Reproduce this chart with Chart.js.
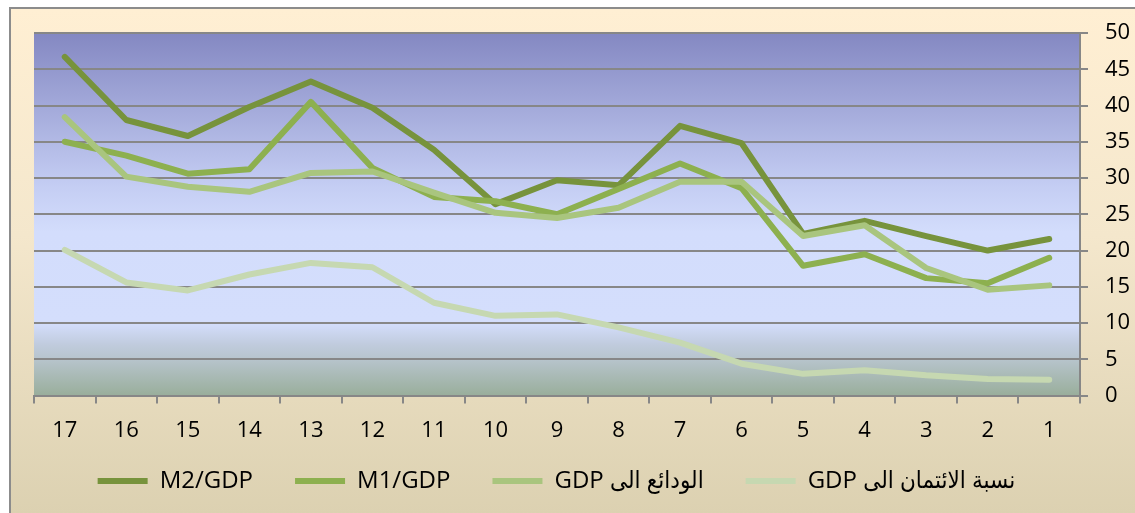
<!doctype html>
<html lang="ar">
<head>
  <meta charset="utf-8">
  <title>M2/GDP</title>
  <script src="https://cdn.jsdelivr.net/npm/chart.js"></script>
  <style>
    html, body { margin: 0; padding: 0; background: #fff; }
    #frame {
      position: absolute; left: 9px; top: 7px; right: 0; bottom: 0;
      border-top: 2px solid #8c8c8c; border-left: 2px solid #8c8c8c;
      background: linear-gradient(#ffefd3, #f4e7cc 45%, #dcd1b1);
    }
    #wrap { position: absolute; left: 0; top: 0; width: 1135px; height: 513px; }
  </style>
</head>
<body>
  <div id="frame"></div>
  <div id="wrap"><canvas id="chart"></canvas></div>

  <script>
    // categories run from 17 down to 1
    const years = ['17', '16', '15', '14', '13', '12', '11', '10', '9', '8', '7', '6', '5', '4', '3', '2', '1'];

    const m2Gdp      = [46.7, 38.0, 35.8, 39.8, 43.3, 39.7, 33.9, 26.4, 29.7, 29.0, 37.2, 34.8, 22.3, 24.1, 22.0, 20.0, 21.6];
    const m1Gdp      = [35.0, 33.1, 30.6, 31.2, 40.5, 31.4, 27.4, 26.8, 25.0, 28.5, 32.0, 28.6, 17.9, 19.5, 16.2, 15.5, 19.0];
    const depositGdp = [38.4, 30.2, 28.8, 28.1, 30.7, 30.9, 28.0, 25.2, 24.5, 25.9, 29.5, 29.5, 22.0, 23.5, 17.6, 14.6, 15.2];
    const creditGdp  = [20.1, 15.6, 14.5, 16.7, 18.3, 17.7, 12.8, 11.0, 11.2, 9.4, 7.3, 4.4, 3.0, 3.5, 2.8, 2.3, 2.2];

    const seriesNames = ['M2/GDP', 'M1/GDP', 'الودائع الى GDP', 'نسبة الائتمان الى GDP'];

    const font = "'Open Sans', 'DejaVu Sans', sans-serif";
    const legendFont = "'Open Sans', 'DejaVu Sans Condensed', 'DejaVu Sans', sans-serif";
    const gridGray = '#878787';

    // wrap arabic names in an RTL embedding so "GDP" ends up on the left
    const rtl = (s) => /[\u0600-\u06FF]/.test(s) ? '\u202B' + s + '\u202C' : s;

    // plot area fill: blue at the top, pale in the middle, grey-green at the floor
    const plotBg = {
      id: 'plotBg',
      beforeDraw(chart) {
        const { ctx, chartArea: a } = chart;
        const g = ctx.createLinearGradient(0, a.top, 0, a.bottom);
        g.addColorStop(0, '#8488c2');
        g.addColorStop(0.42, '#c4cdf3');
        g.addColorStop(0.55, '#d3ddfc');
        g.addColorStop(0.8, '#d4defc');
        g.addColorStop(0.86, '#c0cbdd');
        g.addColorStop(0.9, '#b7c4cc');
        g.addColorStop(1, '#99ae9b');
        ctx.save();
        ctx.fillStyle = g;
        ctx.fillRect(a.left, a.top, a.right - a.left, a.bottom - a.top);
        ctx.restore();
      }
    };

    // pull the legend row up and a bit left, like the original
    const legendShift = {
      id: 'legendShift',
      afterLayout(chart) {
        const L = chart.legend;
        const h = L.bottom - L.top;
        L.top = 427; L.bottom = L.top + h;
        L.left -= 28; L.right -= 28;
      }
    };

    function line(label, data, color, order) {
      return {
        label: rtl(label), data, order,
        borderColor: color,
        backgroundColor: color,
        borderWidth: 6,
        borderCapStyle: 'round',
        borderJoinStyle: 'round',
        pointRadius: 0,
        tension: 0,
        fill: false
      };
    }

    new Chart(document.getElementById('chart'), {
      type: 'line',
      data: {
        labels: years,
        datasets: [
          line(seriesNames[0], m2Gdp, '#77933c', 4),
          line(seriesNames[1], m1Gdp, '#8db04f', 3),
          line(seriesNames[2], depositGdp, '#a9c57e', 2),
          line(seriesNames[3], creditGdp, '#c6d8b1', 1)
        ]
      },
      options: {
        responsive: true,
        maintainAspectRatio: false,
        animation: false,
        layout: { padding: { left: 34, top: 33, right: 0, bottom: -21 } },
        plugins: {
          tooltip: { enabled: false },
          legend: {
            position: 'bottom',
            labels: {
              usePointStyle: true,
              pointStyle: 'line',
              pointStyleWidth: 50,
              padding: 42,
              color: '#000',
              font: { family: legendFont, size: 24 },
              sort: (a, b) => a.datasetIndex - b.datasetIndex
            }
          }
        },
        scales: {
          x: {
            offset: true,
            grid: { offset: true, drawOnChartArea: false, tickLength: 8, color: gridGray, lineWidth: 2 },
            border: { color: gridGray, width: 2 },
            ticks: { color: '#000', padding: 14, font: { family: font, size: 22 } }
          },
          y: {
            position: 'right',
            min: 0,
            max: 50,
            grid: { tickLength: 8, color: gridGray, lineWidth: 2 },
            border: { color: gridGray, width: 2 },
            ticks: { stepSize: 5, color: '#000', padding: 17, font: { family: font, size: 22 } },
            afterFit: (s) => { s.width = 55; }
          }
        }
      },
      plugins: [plotBg, legendShift]
    });
  </script>
</body>
</html>
